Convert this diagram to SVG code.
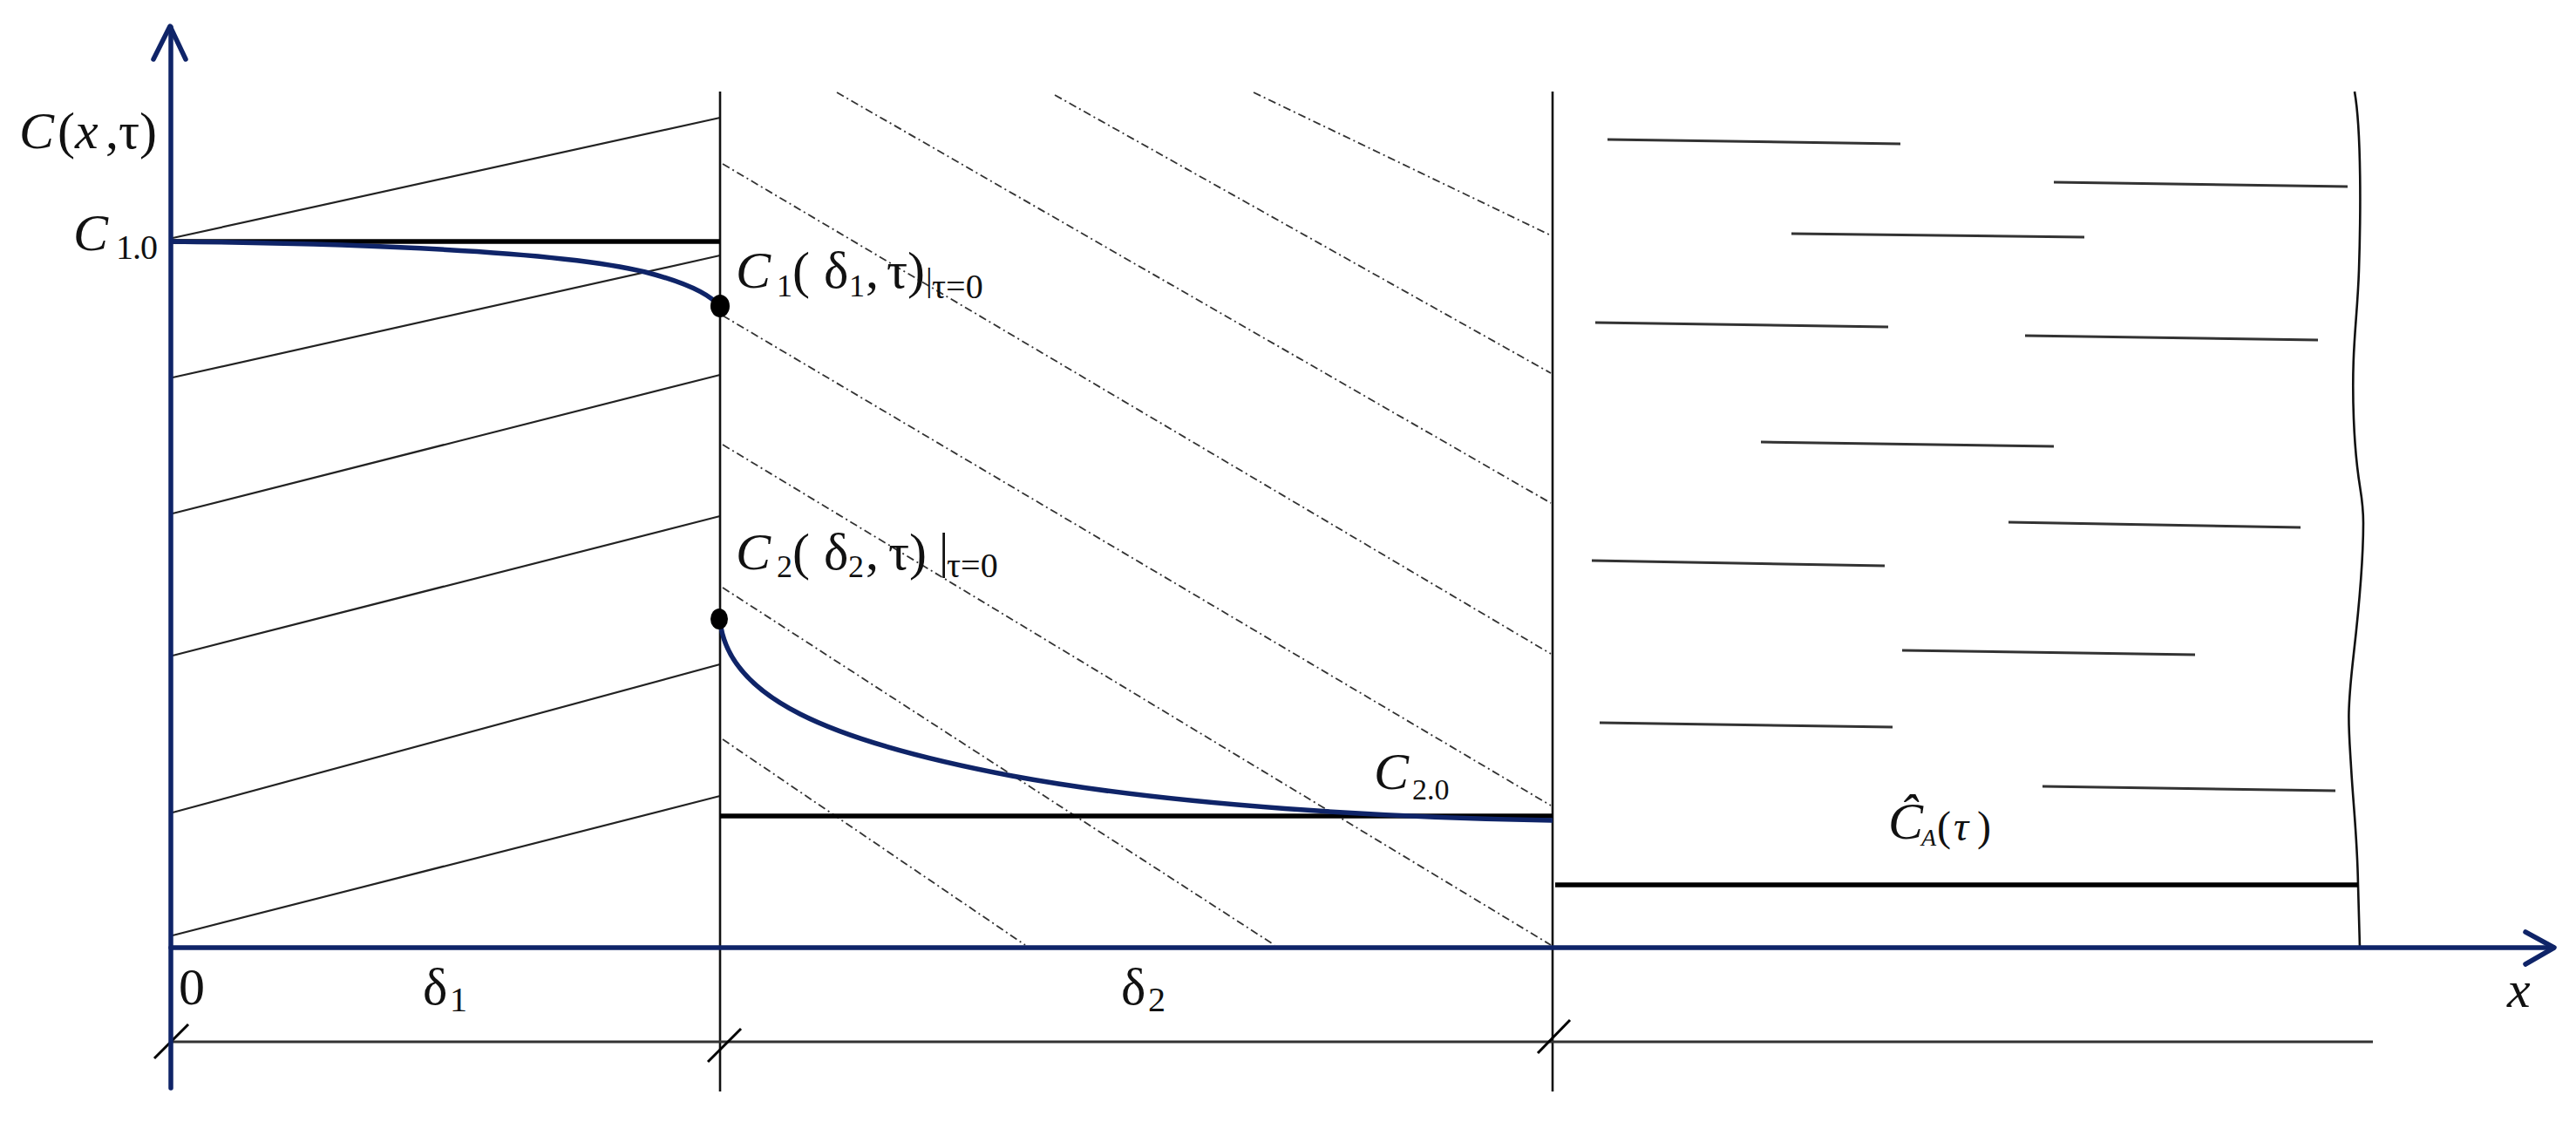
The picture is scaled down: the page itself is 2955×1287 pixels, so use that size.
<svg xmlns="http://www.w3.org/2000/svg" width="2955" height="1287" viewBox="0 0 2955 1287">
<style>
.bnd{stroke:#111;stroke-width:2.6;fill:none}
.hatch{stroke:#222;stroke-width:2.2;fill:none}
.dash{stroke:#333;stroke-width:1.8;fill:none;stroke-dasharray:9 4 2 4}
.liq{stroke:#333;stroke-width:3;fill:none}
.lvl{stroke:#000;stroke-width:5.5;fill:none}
.axis{stroke:#0f2468;stroke-width:5.5;fill:none;stroke-linecap:round;stroke-linejoin:round}
.curve{stroke:#0f2468;stroke-width:5.5;fill:none}
.dim{stroke:#333;stroke-width:3;fill:none}
.tick{stroke:#000;stroke-width:3;fill:none}
text{font-family:"Liberation Serif","Times New Roman",serif;fill:#111;font-size:60px}
.it{font-style:italic}
.sub{font-size:40px}
.sub2{font-size:36px}
</style>
<rect width="2955" height="1287" fill="#fff"/>

<g id="layer1-hatch">
<line class="hatch" x1="198" y1="273" x2="826" y2="135"/>
<line class="hatch" x1="198" y1="433" x2="826" y2="293"/>
<line class="hatch" x1="198" y1="589" x2="826" y2="430"/>
<line class="hatch" x1="198" y1="752" x2="826" y2="592"/>
<line class="hatch" x1="198" y1="932" x2="826" y2="762"/>
<line class="hatch" x1="198" y1="1073" x2="826" y2="913"/>
</g>

<g id="layer2-hatch">
<line class="dash" x1="1438" y1="106" x2="1779" y2="270"/>
<line class="dash" x1="1210" y1="109" x2="1779" y2="428"/>
<line class="dash" x1="960" y1="106" x2="1779" y2="577"/>
<line class="dash" x1="829" y1="188" x2="1779" y2="750"/>
<line class="dash" x1="829" y1="362" x2="1779" y2="924"/>
<line class="dash" x1="829" y1="510" x2="1779" y2="1084"/>
<line class="dash" x1="829" y1="674" x2="1462" y2="1084"/>
<line class="dash" x1="829" y1="848" x2="1176" y2="1084"/>
</g>

<g id="liquid-lines">
<line class="liq" x1="1844" y1="160" x2="2180" y2="165"/>
<line class="liq" x1="2356" y1="209" x2="2693" y2="214"/>
<line class="liq" x1="2055" y1="268" x2="2391" y2="272"/>
<line class="liq" x1="1830" y1="370" x2="2166" y2="375"/>
<line class="liq" x1="2323" y1="385" x2="2659" y2="390"/>
<line class="liq" x1="2020" y1="507" x2="2356" y2="512"/>
<line class="liq" x1="2304" y1="599" x2="2639" y2="605"/>
<line class="liq" x1="1826" y1="643" x2="2162" y2="649"/>
<line class="liq" x1="2182" y1="746" x2="2518" y2="751"/>
<line class="liq" x1="1835" y1="829" x2="2171" y2="834"/>
<line class="liq" x1="2343" y1="902" x2="2679" y2="907"/>
</g>

<g id="boundaries">
<line class="bnd" x1="826" y1="105" x2="826" y2="1252"/>
<line class="bnd" x1="1781" y1="105" x2="1781" y2="1252"/>
<path class="bnd" d="M2701,105 C2709,150 2708,250 2706,310 S2697,400 2700,480 S2711,560 2711,600 S2708,680 2700,750 S2694,830 2697,880 S2704,960 2705,1015 L2707,1087"/>
</g>

<g id="levels">
<line class="lvl" x1="196" y1="277" x2="826" y2="277"/>
<line class="lvl" x1="826" y1="936" x2="1781" y2="936"/>
<line class="lvl" x1="1784" y1="1015" x2="2705" y2="1015"/>
</g>

<g id="dimension">
<line class="dim" x1="196" y1="1195" x2="2722" y2="1195"/>
<line class="tick" x1="177" y1="1214" x2="216" y2="1175"/>
<line class="tick" x1="812" y1="1218" x2="850" y2="1180"/>
<line class="tick" x1="1764" y1="1208" x2="1801" y2="1170"/>
</g>

<g id="curves">
<path class="curve" d="M196,277 C450,280 650,290 740,312 C790,325 815,338 826,352"/>
<path class="curve" d="M826,712 C835,800 950,850 1161,890 C1350,925 1600,938 1781,941"/>
<ellipse cx="826" cy="351" rx="11" ry="13" fill="#000"/>
<ellipse cx="825" cy="710" rx="10" ry="12" fill="#000"/>
</g>

<g id="axes">
<line class="axis" x1="196" y1="1248" x2="196" y2="31"/>
<polyline class="axis" points="176,68 195,30 213,68"/>
<line class="axis" x1="196" y1="1087" x2="2929" y2="1087"/>
<polyline class="axis" points="2897,1069 2930,1087 2897,1106"/>
</g>

<g id="labels">
<text y="170"><tspan x="22" class="it">C</tspan><tspan x="66">(</tspan><tspan x="86" class="it">x</tspan><tspan x="121">,</tspan><tspan x="136">τ</tspan><tspan x="160">)</tspan></text>
<text y="287"><tspan x="84" class="it">C</tspan><tspan x="133" y="297" class="sub" letter-spacing="-1">1.0</tspan></text>
<text y="330"><tspan x="844" class="it">C</tspan><tspan x="891" y="340" class="sub2">1</tspan><tspan x="909" y="330">(</tspan><tspan x="945">δ</tspan><tspan x="974" y="340" class="sub2">1</tspan><tspan x="993" y="330">,</tspan><tspan x="1017">τ</tspan><tspan x="1041">)</tspan><tspan x="1062" y="334" font-size="38">|</tspan><tspan x="1069" y="342" class="sub">τ=0</tspan></text>
<text y="653"><tspan x="844" class="it">C</tspan><tspan x="891" y="662" class="sub2">2</tspan><tspan x="909" y="653">(</tspan><tspan x="945">δ</tspan><tspan x="973" y="662" class="sub2">2</tspan><tspan x="993" y="653">,</tspan><tspan x="1019">τ</tspan><tspan x="1043">)</tspan><tspan x="1077" y="651" font-size="56">|</tspan><tspan x="1086" y="662" class="sub">τ=0</tspan></text>
<text y="905" font-size="48"><tspan x="1576" class="it">C</tspan><tspan x="1620" y="917" font-size="34">2.0</tspan></text>
<text y="962" font-size="40"><tspan x="2166" class="it">Ĉ</tspan><tspan x="2204" y="970" font-size="28" class="it">A</tspan><tspan x="2222" y="964" font-size="48">(</tspan><tspan x="2241" class="it" font-size="48">τ</tspan><tspan x="2268" font-size="48">)</tspan></text>
<text x="205" y="1152">0</text>
<text y="1152"><tspan x="485">δ</tspan><tspan x="516" y="1160" class="sub">1</tspan></text>
<text y="1152"><tspan x="1286">δ</tspan><tspan x="1317" y="1160" class="sub">2</tspan></text>
<text x="2876" y="1155" class="it">x</text>
</g>
</svg>
